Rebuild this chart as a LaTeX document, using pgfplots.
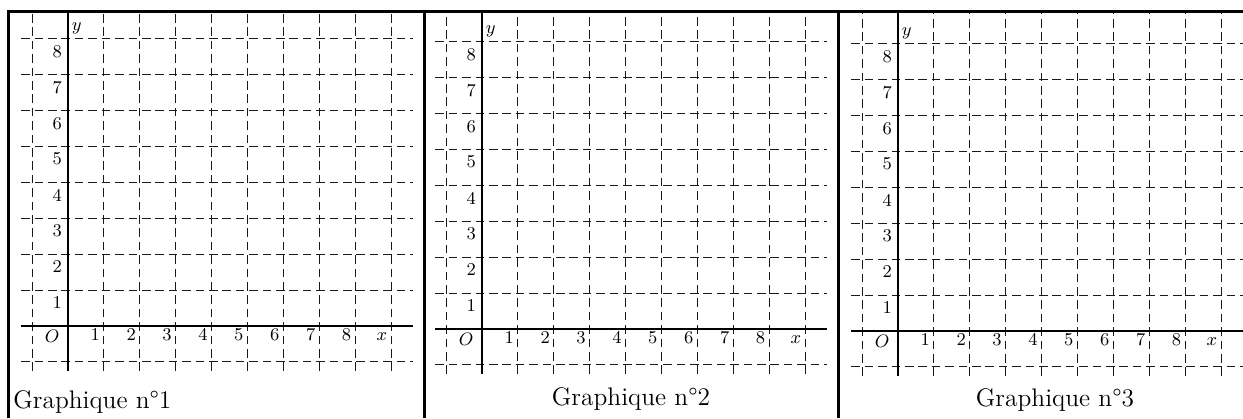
\documentclass[border=0pt]{standalone}
\usepackage{pgfplots}
\pgfplotsset{compat=1.18}

% repere quadrille vierge, 1 unite = 17.95pt
\pgfplotsset{
  grille/.style={
    x=17.95pt, y=17.95pt,
    xmin=-1.3, xmax=9.6, ymin=-1.25,
    anchor=south west,
    axis lines=middle,
    axis line style={-, black, line width=0.55pt},
    xtick={-1,1,2,...,9},
    ytick={-1,1,2,...,8},
    xticklabels={,1,2,3,4,5,6,7,8,$x$},
    yticklabels={,1,2,3,4,5,6,7,8},
    major tick length=0pt,
    grid=major,
    major grid style={black!90, line width=0.55pt, dash pattern=on 4.3pt off 2.4pt},
    tick label style={font=\fontsize{9}{10}\selectfont, inner sep=0pt},
    xticklabel style={anchor=base east, xshift=-1.8pt, yshift=-7pt},
    yticklabel style={anchor=north east, xshift=-2.8pt, yshift=-3pt},
    clip=false,
  }
}
\newcommand{\etiquettes}{%
  \node[anchor=west, inner sep=0pt, font=\fontsize{9}{10}\selectfont] at (axis cs:0.1,8.3) {$y$};
  \node[anchor=base east, inner sep=0pt, xshift=-4pt, yshift=-8pt, font=\fontsize{9}{10}\selectfont] at (axis cs:0,0) {$O$};
}

\begin{document}
\begin{tikzpicture}
  \path[use as bounding box] (0pt,0pt) rectangle (621.5pt,-209pt);

  % Graphique 1
  \begin{axis}[grille, ymax=8.75, at={(10.65pt,-185.45pt)}]
    \etiquettes
  \end{axis}

  % Graphique 2
  \begin{axis}[grille, ymax=8.83, at={(217.65pt,-186.95pt)}]
    \etiquettes
  \end{axis}

  % Graphique 3
  \begin{axis}[grille, ymax=8.89, at={(425.65pt,-187.95pt)}]
    \etiquettes
  \end{axis}

  % cadre du tableau
  \draw[line width=1.5pt] (4.25pt,-209pt) -- (4.25pt,-5.75pt) -- (621.5pt,-5.75pt);
  \draw[line width=1.5pt] (212.25pt,-5.75pt) -- (212.25pt,-209pt);
  \draw[line width=1.5pt] (419.25pt,-5.75pt) -- (419.25pt,-209pt);

  % legendes
  \begingroup\fontsize{12.7}{15}\selectfont
  \node[anchor=base west, inner sep=0pt] at (6.5pt,-204pt) {Graphique n\textdegree1};
  \node[anchor=base, inner sep=0pt] at (315.5pt,-202.5pt) {Graphique n\textdegree2};
  \node[anchor=base, inner sep=0pt] at (527.5pt,-203pt) {Graphique n\textdegree3};
  \endgroup
\end{tikzpicture}
\end{document}
